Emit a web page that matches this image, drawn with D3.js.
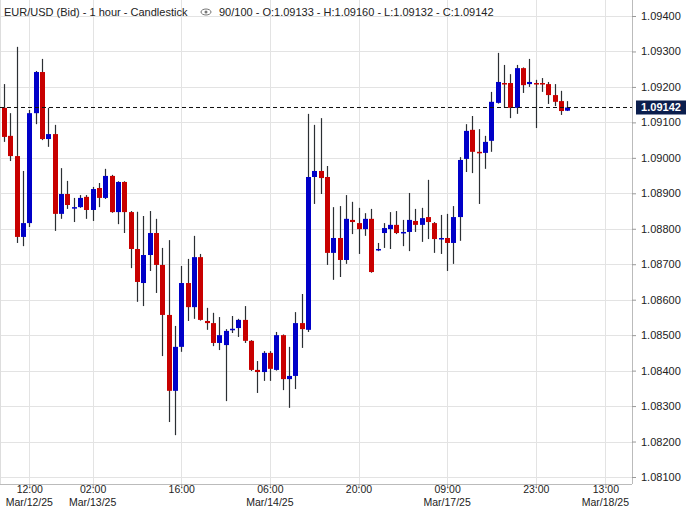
<!DOCTYPE html>
<html>
<head>
<meta charset="utf-8">
<script src="https://cdn.jsdelivr.net/npm/d3@7"></script>
<style>
  body { margin: 0; background: #fff; }
  text { font-family: "Liberation Sans", Arial, sans-serif; }
</style>
</head>
<body>
<script>
// hourly candles, EUR/USD (Bid)
var opens = [1.09141,1.09062,1.09005,1.08777,1.08816,1.09126,1.09242,1.09053,1.09067,1.08842,
  1.08898,1.08859,1.08861,1.08890,1.08853,1.08915,1.08887,1.08949,1.08847,1.08932,
  1.08847,1.08743,1.08647,1.08726,1.08788,1.08698,1.08557,1.08343,1.08467,1.08647,
  1.08579,1.08720,1.08540,1.08534,1.08478,1.08472,1.08516,1.08520,1.08543,1.08484,
  1.08402,1.08396,1.08450,1.08402,1.08500,1.08376,1.08385,1.08534,1.08515,1.08946,
  1.08963,1.08946,1.08732,1.08774,1.08712,1.08825,1.08816,1.08799,1.08828,1.08740,
  1.08788,1.08799,1.08811,1.08788,1.08791,1.08822,1.08811,1.08833,1.08816,1.08774,
  1.08774,1.08760,1.08833,1.08997,1.09079,1.09017,1.09014,1.09048,1.09155,1.09211,
  1.09211,1.09141,1.09253,1.09208,1.09211,1.09211,1.09208,1.09177,1.09160,1.09133];
var highs = [1.09208,1.09126,1.09313,1.08963,1.09135,1.09245,1.09279,1.09141,1.09093,1.08971,
  1.08935,1.08887,1.08895,1.08895,1.08918,1.08929,1.08969,1.08952,1.08934,1.08934,
  1.08850,1.08848,1.08836,1.08850,1.08828,1.08746,1.08768,1.08526,1.08695,1.08715,
  1.08780,1.08729,1.08577,1.08563,1.08551,1.08517,1.08554,1.08546,1.08582,1.08486,
  1.08427,1.08455,1.08455,1.08509,1.08502,1.08467,1.08565,1.08616,1.09124,1.09093,
  1.09112,1.08977,1.08861,1.08864,1.08895,1.08876,1.08859,1.08844,1.08856,1.08760,
  1.08816,1.08847,1.08850,1.08825,1.08901,1.08856,1.08859,1.08938,1.08819,1.08839,
  1.08842,1.08864,1.09002,1.09095,1.09118,1.09081,1.09062,1.09186,1.09296,1.09262,
  1.09236,1.09262,1.09255,1.09279,1.09220,1.09225,1.09214,1.09208,1.09189,1.09160];
var lows = [1.09045,1.08991,1.08760,1.08751,1.08805,1.09095,1.09050,1.09031,1.08794,1.08828,
  1.08856,1.08819,1.08859,1.08828,1.08822,1.08861,1.08884,1.08845,1.08813,1.08788,
  1.08689,1.08594,1.08582,1.08681,1.08619,1.08441,1.08255,1.08218,1.08453,1.08540,
  1.08546,1.08541,1.08515,1.08469,1.08458,1.08314,1.08506,1.08495,1.08478,1.08399,
  1.08337,1.08371,1.08371,1.08400,1.08345,1.08295,1.08348,1.08464,1.08509,1.08870,
  1.08898,1.08698,1.08656,1.08664,1.08701,1.08785,1.08729,1.08780,1.08676,1.08737,
  1.08746,1.08743,1.08785,1.08751,1.08737,1.08791,1.08763,1.08771,1.08732,1.08729,
  1.08681,1.08701,1.08766,1.08960,1.08957,1.08870,1.08969,1.09017,1.09153,1.09141,
  1.09112,1.09124,1.09183,1.09200,1.09084,1.09186,1.09152,1.09146,1.09121,1.09132];
var closes = [1.09059,1.09005,1.08777,1.08816,1.09126,1.09242,1.09053,1.09067,1.08842,1.08898,
  1.08867,1.08861,1.08887,1.08853,1.08912,1.08887,1.08949,1.08847,1.08932,1.08847,
  1.08743,1.08650,1.08726,1.08788,1.08698,1.08557,1.08343,1.08467,1.08647,1.08579,
  1.08720,1.08543,1.08534,1.08478,1.08500,1.08512,1.08518,1.08543,1.08484,1.08402,
  1.08396,1.08450,1.08405,1.08500,1.08376,1.08385,1.08534,1.08517,1.08946,1.08963,
  1.08943,1.08732,1.08774,1.08712,1.08828,1.08819,1.08799,1.08828,1.08678,1.08743,
  1.08802,1.08811,1.08788,1.08791,1.08825,1.08811,1.08830,1.08819,1.08771,1.08774,
  1.08760,1.08833,1.08994,1.09076,1.09017,1.09014,1.09045,1.09158,1.09214,1.09208,
  1.09141,1.09253,1.09205,1.09214,1.09208,1.09208,1.09177,1.09158,1.09132,1.09142];

var priceTicks = [1.081,1.082,1.083,1.084,1.085,1.086,1.087,1.088,1.089,1.090,1.091,1.092,1.093,1.094];
var timeTickIdx = [4, 14, 28, 42, 56, 70, 84, 95];
var timeTickLabels = ["12:00", "02:00", "16:00", "06:00", "20:00", "09:00", "23:00", "13:00"];
var dateTickIdx = [4, 14, 42, 70, 95];
var dateTickLabels = ["Mar/12/25", "Mar/13/25", "Mar/14/25", "Mar/17/25", "Mar/18/25"];
var lastPrice = 1.09142;

var width = 690, height = 508;
var plotRight = 632, plotBottom = 484;

var x = d3.scaleLinear().domain([-0.63, 99.2]).range([0, plotRight]);
var y = d3.scaleLinear().domain([1.081, 1.094]).range([477, 16]);

var svg = d3.select("body").append("svg")
  .attr("width", width)
  .attr("height", height);

// grid
svg.append("g").selectAll("line").data(priceTicks).enter().append("line")
  .attr("x1", 0).attr("x2", plotRight)
  .attr("y1", function(d) { return Math.round(y(d)) + 0.5; })
  .attr("y2", function(d) { return Math.round(y(d)) + 0.5; })
  .attr("stroke", "#e3e3e3");
svg.append("g").selectAll("line").data(timeTickIdx).enter().append("line")
  .attr("x1", function(d) { return Math.round(x(d)) + 0.5; })
  .attr("x2", function(d) { return Math.round(x(d)) + 0.5; })
  .attr("y1", 0).attr("y2", plotBottom)
  .attr("stroke", "#e3e3e3");

// borders
svg.append("line").attr("x1", plotRight + 0.5).attr("x2", plotRight + 0.5)
  .attr("y1", 0).attr("y2", plotBottom).attr("stroke", "#bbb");
svg.append("line").attr("x1", 0).attr("x2", plotRight)
  .attr("y1", plotBottom + 0.5).attr("y2", plotBottom + 0.5).attr("stroke", "#bbb");
svg.append("line").attr("x1", 0.5).attr("x2", 0.5)
  .attr("y1", 0).attr("y2", plotBottom).attr("stroke", "#ddd");

// price axis
var yAxis = svg.append("g")
  .attr("transform", "translate(" + plotRight + ",0)")
  .call(d3.axisRight(y).tickValues(priceTicks).tickFormat(d3.format(".5f")).tickSize(4));
yAxis.select(".domain").remove();
yAxis.selectAll("text").attr("font-size", 11).attr("fill", "#222").attr("x", 9);
yAxis.selectAll("line").attr("stroke", "#999");

// time axis
var xAxis = svg.append("g")
  .attr("transform", "translate(0," + plotBottom + ")")
  .call(d3.axisBottom(x).tickValues(timeTickIdx)
    .tickFormat(function(d, i) { return timeTickLabels[i]; }).tickSize(3));
xAxis.select(".domain").remove();
xAxis.selectAll("text").attr("font-size", 10.5).attr("fill", "#222").attr("y", 2);
xAxis.selectAll("line").attr("stroke", "#999");

svg.append("g").selectAll("text").data(dateTickIdx).enter().append("text")
  .attr("x", function(d) { return x(d); })
  .attr("y", 506)
  .attr("text-anchor", "middle")
  .attr("font-size", 10.5)
  .attr("fill", "#222")
  .text(function(d, i) { return dateTickLabels[i]; });

// candles
var idx = d3.range(opens.length);
var bw = 5;
var candles = svg.append("g").selectAll("g").data(idx).enter().append("g");
candles.append("line")
  .attr("x1", function(i) { return Math.round(x(i)) + 0.5; })
  .attr("x2", function(i) { return Math.round(x(i)) + 0.5; })
  .attr("y1", function(i) { return y(highs[i]); })
  .attr("y2", function(i) { return y(lows[i]); })
  .attr("stroke", "#2b2f33")
  .attr("stroke-width", 1.2);
candles.append("rect")
  .attr("x", function(i) { return Math.round(x(i)) + 0.5 - bw / 2; })
  .attr("width", bw)
  .attr("y", function(i) { return y(Math.max(opens[i], closes[i])); })
  .attr("height", function(i) { return Math.max(1.5, Math.abs(y(opens[i]) - y(closes[i]))); })
  .attr("fill", function(i) { return closes[i] >= opens[i] ? "#0000c8" : "#c80000"; });

// last price line and tag
svg.append("line")
  .attr("x1", 0).attr("x2", plotRight)
  .attr("y1", y(lastPrice)).attr("y2", y(lastPrice))
  .attr("stroke", "#111").attr("stroke-dasharray", "4,3");
svg.append("rect")
  .attr("x", 636).attr("y", y(lastPrice) - 7)
  .attr("width", 50).attr("height", 14)
  .attr("fill", "#0b1e4d");
svg.append("text")
  .attr("x", 661).attr("y", y(lastPrice) + 4)
  .attr("text-anchor", "middle")
  .attr("font-size", 11).attr("font-weight", "bold")
  .attr("fill", "#fff")
  .text(d3.format(".5f")(lastPrice));

// title
svg.append("text")
  .attr("x", 4).attr("y", 16)
  .attr("font-size", 11).attr("fill", "#222")
  .text("EUR/USD (Bid) - 1 hour - Candlestick");
svg.append("ellipse").attr("cx", 206).attr("cy", 12).attr("rx", 5).attr("ry", 3)
  .attr("fill", "none").attr("stroke", "#777");
svg.append("circle").attr("cx", 206).attr("cy", 12).attr("r", 1.5).attr("fill", "#777");
svg.append("text")
  .attr("x", 219).attr("y", 16)
  .attr("font-size", 11).attr("fill", "#222")
  .text("90/100 - O:1.09133 - H:1.09160 - L:1.09132 - C:1.09142");
</script>
</body>
</html>
